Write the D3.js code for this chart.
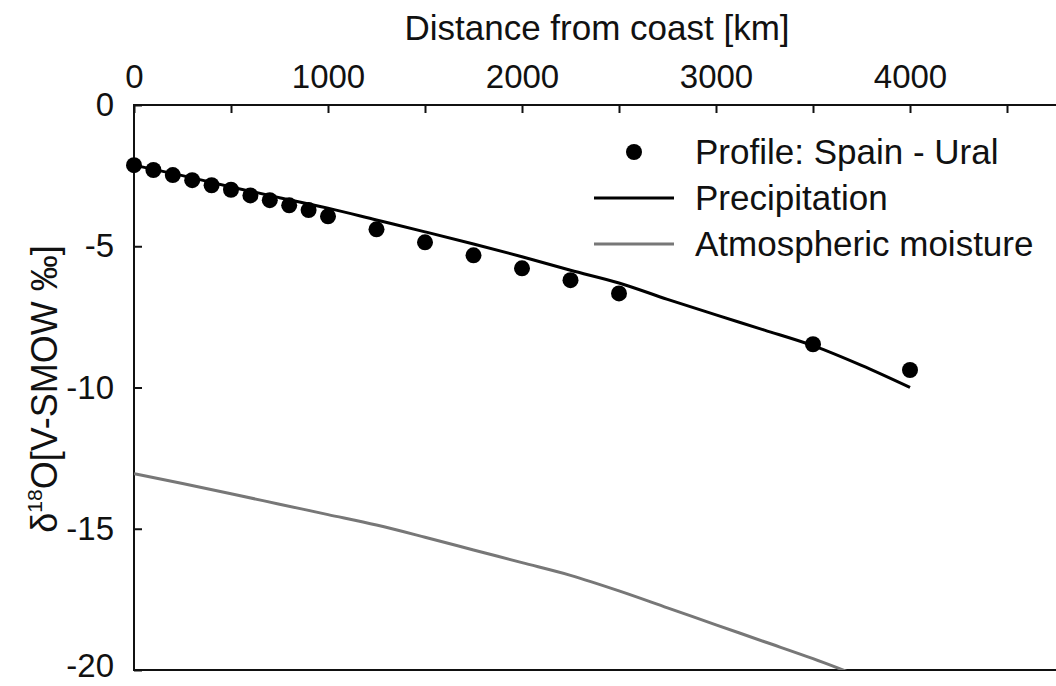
<!DOCTYPE html>
<html lang="en">
<head>
    <meta charset="UTF-8">
    <title>d18O profile</title>
    <script src="https://cdn.jsdelivr.net/npm/d3@7/dist/d3.min.js"></script>
    <style>
        body { margin: 0; background: #fff; }
        svg { display: block; font-family: "Liberation Sans", Arial, sans-serif; }
    </style>
</head>
<body>
<script>
    // measured points: Spain - Ural profile
    const profileKm = [0, 100, 200, 300, 400, 500, 600, 700, 800, 900, 1000, 1250, 1500, 1750, 2000, 2250, 2500, 3500, 4000];
    const profileD18O = [-2.13, -2.3, -2.48, -2.66, -2.84, -3.0, -3.2, -3.37, -3.55, -3.72, -3.94, -4.4, -4.86, -5.32, -5.78, -6.2, -6.67, -8.47, -9.38];

    // model curves
    const modelKm = [0, 250, 500, 750, 1000, 1250, 1500, 1750, 2000, 2250, 2500, 2750, 3000, 3250, 3500, 3750, 4000];
    const precipD18O = [-2.13, -2.5, -2.9, -3.28, -3.65, -4.07, -4.49, -4.92, -5.37, -5.85, -6.3, -6.88, -7.43, -7.97, -8.52, -9.22, -10.0];
    const moistureD18O = [-13.05, -13.4, -13.76, -14.13, -14.5, -14.87, -15.3, -15.75, -16.2, -16.65, -17.2, -17.8, -18.4, -19.0, -19.6, -20.25, -20.9];

    const xTicks = [0, 1000, 2000, 3000, 4000];
    const yTicks = [0, -5, -10, -15, -20];
    const legendLabels = ['Profile: Spain - Ural', 'Precipitation', 'Atmospheric moisture'];

    const W = 1056, H = 686;
    const mLeft = 134, mTop = 105, mBottom = 670, mRight = 1104;

    const x = d3.scaleLinear().domain([0, 5000]).range([mLeft, mRight]);
    const y = d3.scaleLinear().domain([0, -20]).range([mTop, mBottom]);

    const svg = d3.select('body').append('svg')
        .attr('width', W)
        .attr('height', H);

    svg.append('defs').append('clipPath').attr('id', 'plot')
        .append('rect')
        .attr('x', mLeft).attr('y', mTop)
        .attr('width', mRight - mLeft).attr('height', mBottom - mTop);

    // frame
    svg.append('rect')
        .attr('x', mLeft).attr('y', mTop)
        .attr('width', mRight - mLeft).attr('height', mBottom - mTop)
        .attr('fill', 'none')
        .attr('stroke', '#111')
        .attr('stroke-width', 2);

    // top axis, ticks pointing inward
    const xAxis = svg.append('g')
        .attr('transform', `translate(0,${mTop})`)
        .call(d3.axisTop(x).tickValues(d3.range(0, 5001, 500)).tickSize(-8).tickPadding(17)
            .tickFormat(d => xTicks.includes(d) ? String(d) : ''));
    xAxis.select('.domain').remove();
    xAxis.selectAll('line').attr('stroke', '#111').attr('stroke-width', 2);
    xAxis.selectAll('text').attr('font-size', 33).attr('fill', '#111')
        .attr('font-family', '"Liberation Sans", Arial, sans-serif');

    const yAxis = svg.append('g')
        .attr('transform', `translate(${mLeft},0)`)
        .call(d3.axisLeft(y).tickValues(yTicks).tickSize(-8).tickPadding(20).tickFormat(d => String(d)));
    yAxis.select('.domain').remove();
    yAxis.selectAll('line').attr('stroke', '#111').attr('stroke-width', 2);
    yAxis.selectAll('text').attr('font-size', 33).attr('fill', '#111')
        .attr('font-family', '"Liberation Sans", Arial, sans-serif');
    yAxis.selectAll('.tick').filter(d => d === -20).select('text').attr('dy', '0.2em');

    // axis titles
    svg.append('text')
        .attr('x', 597).attr('y', 40)
        .attr('text-anchor', 'middle')
        .attr('font-size', 35)
        .attr('fill', '#111')
        .text('Distance from coast [km]');

    const yl = svg.append('text')
        .attr('transform', 'translate(57,389) rotate(-90)')
        .attr('text-anchor', 'middle')
        .attr('font-size', 36)
        .attr('fill', '#111');
    yl.append('tspan').text('δ');
    yl.append('tspan').attr('font-size', 21).attr('dy', -15).text('18');
    yl.append('tspan').attr('dy', 15).text('O[V-SMOW ‰]');

    const line = d3.line()
        .curve(d3.curveMonotoneX)
        .x(d => x(d[0]))
        .y(d => y(d[1]));

    const plot = svg.append('g').attr('clip-path', 'url(#plot)');

    plot.append('path')
        .datum(d3.zip(modelKm, moistureD18O))
        .attr('d', line)
        .attr('fill', 'none')
        .attr('stroke', '#777')
        .attr('stroke-width', 3);

    plot.append('path')
        .datum(d3.zip(modelKm, precipD18O))
        .attr('d', line)
        .attr('fill', 'none')
        .attr('stroke', '#000')
        .attr('stroke-width', 3);

    svg.append('g')
        .selectAll('circle')
        .data(d3.zip(profileKm, profileD18O))
        .join('circle')
        .attr('cx', d => x(d[0]))
        .attr('cy', d => y(d[1]))
        .attr('r', 8)
        .attr('fill', '#000');

    // legend
    const lg = svg.append('g');
    const rows = [152, 198, 244];
    lg.append('circle').attr('cx', 634).attr('cy', rows[0]).attr('r', 8).attr('fill', '#000');
    lg.append('line').attr('x1', 594).attr('x2', 674).attr('y1', rows[1]).attr('y2', rows[1])
        .attr('stroke', '#000').attr('stroke-width', 3);
    lg.append('line').attr('x1', 594).attr('x2', 674).attr('y1', rows[2]).attr('y2', rows[2])
        .attr('stroke', '#777').attr('stroke-width', 3);
    lg.selectAll('text')
        .data(legendLabels)
        .join('text')
        .attr('x', 695)
        .attr('y', (d, i) => rows[i] + 12)
        .attr('font-size', 35)
        .attr('fill', '#111')
        .text(d => d);
</script>
</body>
</html>
